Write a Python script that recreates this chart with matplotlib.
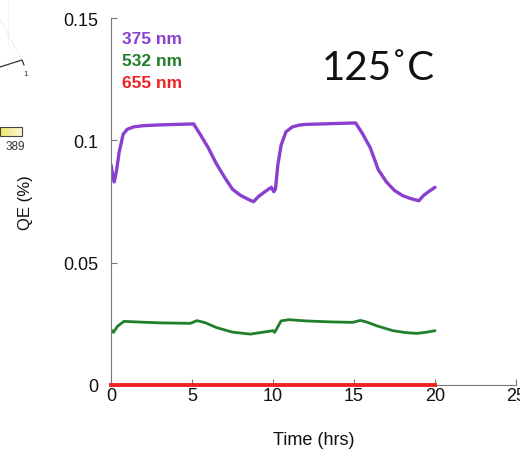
import numpy as np
import matplotlib
matplotlib.use("Agg")
import matplotlib.pyplot as plt
from matplotlib.patches import Rectangle

plt.rcParams['font.family'] = ['Liberation Sans', 'DejaVu Sans']

# QE vs time at 125 C, three wavelengths
t_375 = [0, 0.1, 0.2, 0.35, 0.5, 0.75, 1.0, 1.4, 2.0, 3.0, 4.0, 5.1, 5.5, 6.0,
         6.5, 7.0, 7.5, 8.0, 8.5, 8.8, 9.1, 9.5, 9.9, 10.05, 10.15, 10.3, 10.5,
         10.8, 11.2, 11.6, 12.0, 13.0, 14.0, 15.1, 15.5, 16.0, 16.5, 17.0, 17.5,
         18.0, 18.5, 19.0, 19.3, 19.6, 20.0]
qe_375 = [0.0900, 0.0860, 0.0830, 0.0880, 0.0950, 0.1025, 0.1045, 0.1055, 0.1060,
          0.1063, 0.1065, 0.1067, 0.1025, 0.0970, 0.0905, 0.0850, 0.0800, 0.0775,
          0.0758, 0.0749, 0.0770, 0.0790, 0.0808, 0.0790, 0.0800, 0.0900, 0.0980,
          0.1035, 0.1055, 0.1062, 0.1065, 0.1067, 0.1069, 0.1071, 0.1030, 0.0970,
          0.0880, 0.0830, 0.0795, 0.0774, 0.0762, 0.0753, 0.0775, 0.0790, 0.0808]

t_532 = [0, 0.15, 0.4, 0.8, 1.5, 3.0, 4.9, 5.3, 5.8, 6.5, 7.5, 8.6, 9.4, 10.0,
         10.1, 10.5, 11.0, 12.0, 13.5, 14.9, 15.4, 15.8, 16.4, 17.4, 18.2, 18.9,
         19.5, 20.0]
qe_532 = [0.0226, 0.0215, 0.0240, 0.0260, 0.0258, 0.0254, 0.0252, 0.0263, 0.0255,
          0.0235, 0.0216, 0.0208, 0.0216, 0.0222, 0.0215, 0.0262, 0.0267, 0.0262,
          0.0258, 0.0256, 0.0264, 0.0257, 0.0242, 0.0222, 0.0214, 0.0211, 0.0216,
          0.0222]

t_655 = [0, 20]
qe_655 = [0.0, 0.0]

labels = ['375 nm', '532 nm', '655 nm']
colors = ['#8a3fcf', '#1f7f2a', '#ee2222']

xticks = [0, 5, 10, 15, 20, 25]
yticks = [0, 0.05, 0.1, 0.15]
ytick_labels = ['0', '0.05', '0.1', '0.15']

W, H = 520, 452
fig = plt.figure(figsize=(W / 100, H / 100), dpi=100)

# leftover of the neighbouring panel on the left edge
bg = fig.add_axes([0, 0, 1, 1])
bg.set_xlim(0, W)
bg.set_ylim(H, 0)
bg.axis('off')
bg.plot([0, 22, 24], [68, 61, 66], color='#333333', lw=0.9)
bg.plot([0, 22], [20, 61], color='#cccccc', lw=0.6, ls=':')
bg.plot([8, 8], [0, 45], color='#dddddd', lw=0.6, ls=':')
bg.text(26, 75, '1', fontsize=6, color='#333333', ha='center', va='center')
grad = np.linspace(0, 1, 50).reshape(1, -1)
bg.imshow(grad, cmap=matplotlib.colors.LinearSegmentedColormap.from_list(
    'cb', ['#f2e86a', '#fbf7d8']), extent=[0, 22, 137, 128], aspect='auto')
bg.add_patch(Rectangle((0, 128), 22, 9, fill=False, ec='#444444', lw=0.8))
bg.text(25, 147, '389', fontsize=8.5, color='#333333', ha='right', va='center')

ax = fig.add_axes([111 / W, (H - 386) / H, 405 / W, 367 / H])
ax.plot(t_375, qe_375, color=colors[0], lw=2.4, solid_capstyle='round',
        solid_joinstyle='round')
ax.plot(t_532, qe_532, color=colors[1], lw=2.0, solid_capstyle='round',
        solid_joinstyle='round')
ax.plot(t_655, qe_655, color=colors[2], lw=2.8, clip_on=False, zorder=5)

ax.set_xlim(0, 25)
ax.set_ylim(0, 0.15)
ax.set_xticks(xticks)
ax.set_yticks(yticks)
ax.set_yticklabels(ytick_labels)
for side in ['top', 'right']:
    ax.spines[side].set_visible(False)
for side in ['left', 'bottom']:
    ax.spines[side].set_color('#777777')
    ax.spines[side].set_linewidth(0.8)
ax.tick_params(axis='both', direction='in', length=4, width=0.8, color='#777777',
               labelsize=13, labelcolor='#111111')
ax.tick_params(axis='y', pad=9)
ax.tick_params(axis='x', pad=1.5)
ax.patch.set_alpha(0)

ax.set_xlabel('Time (hrs)', fontsize=13, color='#111111')
ax.set_ylabel('QE (%)', fontsize=12, color='#111111')
ax.xaxis.set_label_coords(0.5, -0.125)
ax.yaxis.set_label_coords(-0.193, 0.5)

for i, (lab, c) in enumerate(zip(labels, colors)):
    ax.text(0.026, 0.943 - i * 0.059, lab, transform=ax.transAxes, color=c,
            fontsize=12.5, fontweight='bold', va='center', ha='left')

fig.text(378 / W, 1 - 68 / H, '125\u02daC', fontsize=29, ha='center', va='center',
         family=['Lato', 'DejaVu Sans'], color='#111111')

fig.savefig('out.png', dpi=100)
